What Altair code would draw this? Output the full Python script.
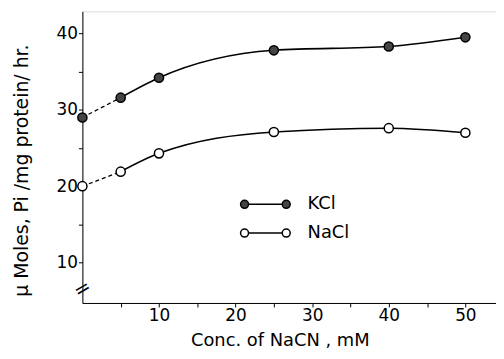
import altair as alt
import pandas as pd

conc = [0, 5, 10, 25, 40, 50]
kcl = [29.0, 31.6, 34.2, 37.8, 38.3, 39.5]
nacl = [20.0, 21.9, 24.3, 27.1, 27.6, 27.0]
salts = ["KCl", "NaCl"]
x_ticks = [5, 10, 15, 20, 25, 30, 35, 40, 45, 50]
y_ticks = [10, 15, 20, 25, 30, 35, 40]
break_value = [6.5]

rows = []
for s, vals in zip(salts, [kcl, nacl]):
    for c, v in zip(conc, vals):
        rows.append({"salt": s, "conc": c, "rate": v})
df = pd.DataFrame(rows)
brk = pd.DataFrame({"conc": [0], "rate": break_value})

FONT = "DejaVu Sans"

xscale = alt.Scale(domain=[0, 54], nice=False, zero=False)
yscale = alt.Scale(domain=[4.7, 42.9], nice=False, zero=False)

xenc = alt.X(
    "conc:Q", scale=xscale,
    axis=alt.Axis(
        title="Conc. of NaCN , mM", values=x_ticks,
        labelExpr="datum.value % 10 == 0 ? datum.label : ''",
        grid=False, tickSize=4, labelPadding=1, domainColor="black",
        tickColor="black", labelColor="black", titleColor="black",
        labelFont=FONT, titleFont=FONT, labelFontSize=17, titleFontSize=18,
        titleFontWeight="normal", titleX=199, titleY=43, titleBaseline="alphabetic",
        labelFlush=False,
    ),
)
yenc = alt.Y(
    "rate:Q", scale=yscale,
    axis=alt.Axis(
        title="μ Moles, Pi /mg protein/ hr.", values=y_ticks,
        labelExpr="datum.value % 10 == 0 ? datum.label : ''",
        grid=False, tickSize=4, labelPadding=1, domainColor="black",
        tickColor="black", labelColor="black", titleColor="black",
        labelFont=FONT, titleFont=FONT, labelFontSize=17, titleFontSize=19,
        titleFontWeight="normal", titleX=-61, titleY=160, titleBaseline="middle",
        labelFlush=False,
    ),
)

base = alt.Chart(df)

dashed = base.transform_filter("datum.conc <= 5").mark_line(
    color="black", strokeWidth=1.3, strokeDash=[4, 3]
).encode(x=xenc, y=yenc, detail="salt:N")

solid = base.transform_filter("datum.conc >= 5").mark_line(
    color="black", strokeWidth=1.6, interpolate="monotone"
).encode(x=xenc, y=yenc, detail="salt:N")

legend_path = (
    "M-2.04,0 A0.48,0.48 0 1,1 -3,0 A0.48,0.48 0 1,1 -2.04,0 Z "
    "M-2.04,0 L2.04,0 "
    "M3,0 A0.48,0.48 0 1,1 2.04,0 A0.48,0.48 0 1,1 3,0 Z"
)

points = base.mark_point(
    shape="circle", size=85, stroke="black", strokeWidth=1.5, opacity=1, filled=False
).encode(
    x=xenc, y=yenc,
    fill=alt.Fill(
        "salt:N",
        scale=alt.Scale(domain=salts, range=["#444444", "white"]),
        legend=alt.Legend(
            title=None, orient="none", legendX=175, legendY=185,
            symbolType=legend_path, symbolSize=278, symbolStrokeColor="black",
            symbolStrokeWidth=1.5, labelOffset=33, rowPadding=10,
            labelFont=FONT, labelFontSize=18, labelColor="black", padding=0,
        ),
    ),
)

breakmark = alt.Chart(brk).mark_text(
    text="=", fontSize=20, angle=330, color="black", font=FONT
).encode(x=alt.X("conc:Q", scale=xscale), y=alt.Y("rate:Q", scale=yscale))

chart = alt.layer(dashed, solid, points, breakmark).properties(
    width=417, height=294,
    autosize=alt.AutoSizeParams(type="none"),
    padding={"left": 75, "top": 2, "right": 0, "bottom": 47},
).configure_view(stroke=None).configure(background="white")

chart.save("out.html", embed_options={"renderer": "svg", "actions": False})
